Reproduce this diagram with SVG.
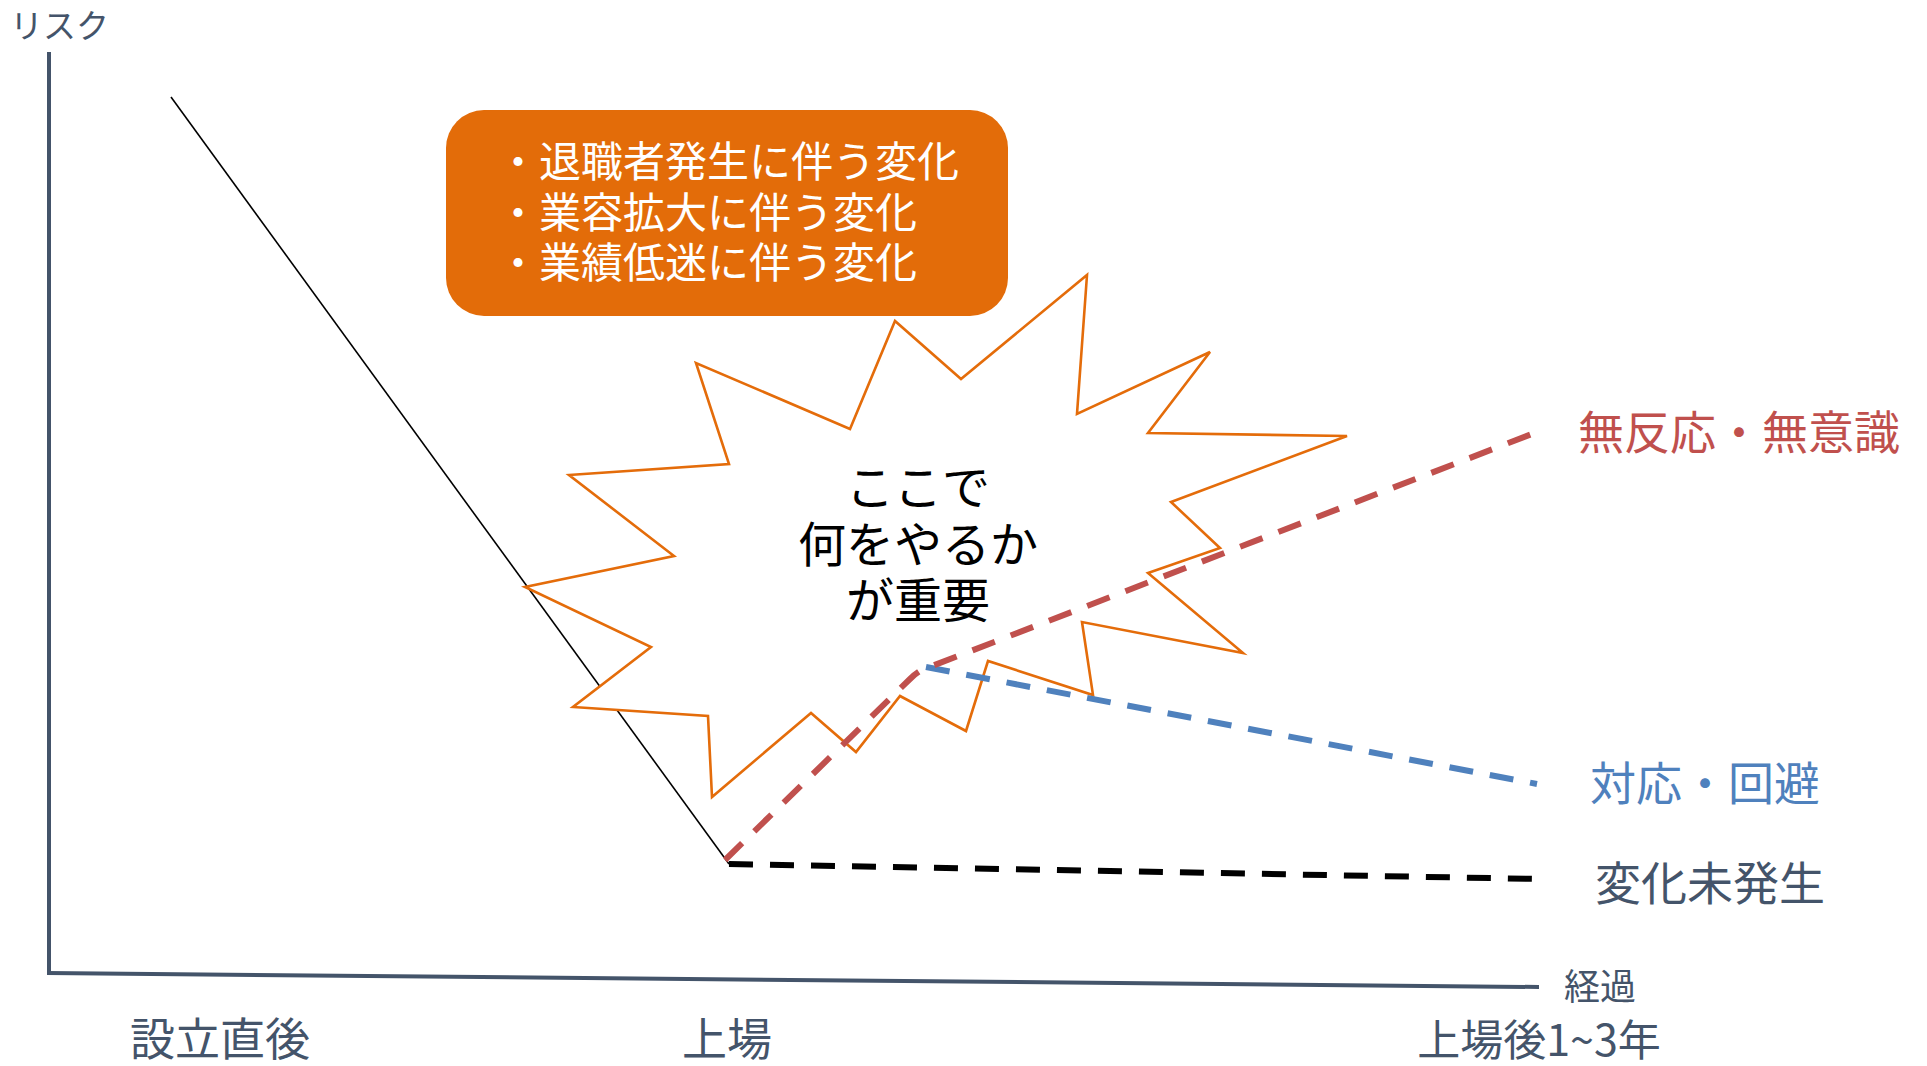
<svg xmlns="http://www.w3.org/2000/svg" width="1927" height="1066" viewBox="0 0 1927 1066">
<style>
text{font-family:"Noto Sans CJK JP","Noto Sans CJK SC",sans-serif;}
.axis{stroke:#44546A;stroke-width:4;fill:none;stroke-linecap:butt;}
.slate{fill:#44546A;}
.dash{fill:none;stroke-width:6;stroke-dasharray:24 17;}
.white{fill:#FFFFFF;font-size:42px;}
.ctr{fill:#000000;font-size:48px;text-anchor:middle;}
.lbl{font-size:46px;}
</style>
<rect width="1927" height="1066" fill="#FFFFFF"/>
<g id="axes">
<line class="axis" x1="49" y1="52" x2="49" y2="975"/>
<line class="axis" x1="47" y1="973" x2="1539" y2="987"/>
</g>
<g id="connectors">
<line x1="171" y1="97" x2="729" y2="864" stroke="#000000" stroke-width="1.6"/>
</g>
<g id="burst">
<polygon points="569,475 729,464 696,363 850,429 895,321 961,379 1087,275 1077,414 1210,352 1148,433 1347,436 1171,502 1220,548 1148,573 1243,653 1082,622 1093,695 988,661 966,731 900,696 856,752 811,713 712,797 708,716 573,707 651,647 525,587 674,556" fill="#FFFFFF" stroke="#E46C0A" stroke-width="2.6" stroke-linejoin="miter"/>
</g>
<g id="trend-lines">
<path class="dash" stroke="#000000" d="M729,864 L1539,879"/>
<path class="dash" stroke="#4F81BD" d="M926,667 L1537,784"/>
<path class="dash" stroke="#C0504D" d="M725,860 L910,679 Q920,669 932,666 L1537,432"/>
</g>
<g id="change-box">
<rect x="446" y="110" width="562" height="206" rx="38" ry="38" fill="#E36C09"/>
<text class="white" x="497" y="177"><tspan x="497">・退職者発生に伴う変化</tspan><tspan x="497" dy="51">・業容拡大に伴う変化</tspan><tspan x="497" dy="50">・業績低迷に伴う変化</tspan></text>
</g>
<g id="burst-text">
<text class="ctr" x="918" y="505"><tspan x="918">ここで</tspan><tspan x="918" dy="57">何をやるか</tspan><tspan x="918" dy="56">が重要</tspan></text>
</g>
<g id="label-y"><text class="slate" x="10" y="38" font-size="33">リスク</text></g>
<g id="label-x"><text class="slate" x="1564" y="1000" font-size="36">経過</text></g>
<g id="label-red"><text class="lbl" x="1578" y="449" fill="#C0504D">無反応・無意識</text></g>
<g id="label-blue"><text class="lbl" x="1590" y="800" fill="#4F81BD">対応・回避</text></g>
<g id="label-none"><text class="lbl slate" x="1595" y="900">変化未発生</text></g>
<g id="tick-1"><text class="slate" x="220" y="1056" font-size="45" text-anchor="middle">設立直後</text></g>
<g id="tick-2"><text class="slate" x="727" y="1056" font-size="45" text-anchor="middle">上場</text></g>
<g id="tick-3"><text class="slate" x="1539" y="1056" font-size="43" text-anchor="middle">上場後1~3年</text></g>
</svg>
